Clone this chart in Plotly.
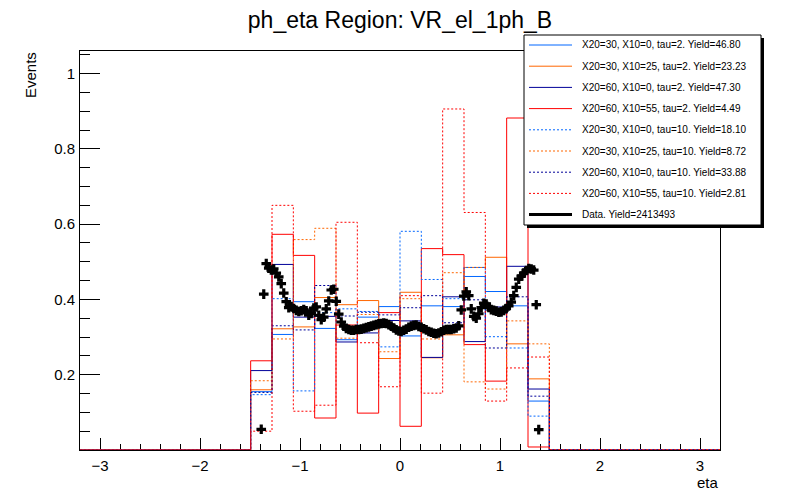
import numpy as np
import plotly.graph_objects as go

# bins do histograma: 30 bins entre -3.2 e 3.2, so os 14 centrais tem conteudo
eta_min, eta_max, n_bins = -3.2, 3.2, 30
n_vazios = 8

# sinais normalizados (tau=2 solido, tau=10 pontilhado)
x20_30_x10_0_tau2 = [0.155, 0.307, 0.394, 0.323, 0.293, 0.353, 0.381, 0.303, 0.383, 0.381, 0.461, 0.421, 0.383, 0.130]
x20_30_x10_25_tau2 = [0.160, 0.322, 0.327, 0.405, 0.386, 0.397, 0.243, 0.419, 0.245, 0.306, 0.485, 0.512, 0.282, 0.189]
x20_60_x10_0_tau2 = [0.211, 0.493, 0.353, 0.355, 0.287, 0.311, 0.344, 0.343, 0.246, 0.407, 0.288, 0.380, 0.488, 0.162]
x20_60_x10_55_tau2 = [0.237, 0.573, 0.517, 0.085, 0.332, 0.098, 0.365, 0.063, 0.535, 0.519, 0.280, 0.183, 0.882, 0.008]
x20_30_x10_0_tau10 = [0.147, 0.402, 0.157, 0.365, 0.375, 0.368, 0.274, 0.581, 0.453, 0.402, 0.485, 0.301, 0.271, 0.090]
x20_30_x10_25_tau10 = [0.184, 0.295, 0.559, 0.589, 0.297, 0.360, 0.261, 0.402, 0.295, 0.471, 0.181, 0.162, 0.343, 0.282]
x20_60_x10_0_tau10 = [0.153, 0.330, 0.319, 0.437, 0.356, 0.366, 0.359, 0.378, 0.410, 0.338, 0.399, 0.271, 0.407, 0.143]
x20_60_x10_55_tau10 = [0.050, 0.650, 0.103, 0.119, 0.605, 0.285, 0.168, 0.410, 0.151, 0.906, 0.631, 0.130, 0.218, 0.247]

# dados: bins de 0.025 entre -1.4 e 1.4
data_bin_lo, data_bin_w = -1.4, 0.025
data_vals = [
    0.055, 0.414, 0.495, 0.483, 0.478, 0.481, 0.470, 0.460, 0.442, 0.417,
    0.394, 0.378, 0.381, 0.376, 0.371, 0.368, 0.370, 0.373, 0.370, 0.358,
    0.363, 0.377, 0.380, 0.358, 0.346, 0.353, 0.375, 0.396, 0.425, 0.427,
    0.395, 0.361, 0.340, 0.329, 0.323, 0.320, 0.318, 0.318, 0.320, 0.320,
    0.321, 0.323, 0.325, 0.327, 0.329, 0.331, 0.333, 0.335, 0.336, 0.337,
    0.336, 0.333, 0.329, 0.324, 0.319, 0.316, 0.315, 0.318, 0.321, 0.326,
    0.329, 0.331, 0.332, 0.328, 0.326, 0.322, 0.319, 0.315, 0.313, 0.310,
    0.309, 0.311, 0.314, 0.318, 0.320, 0.320, 0.320, 0.322, 0.324, 0.330,
    0.372, 0.409, 0.420, 0.410, 0.375, 0.355, 0.350, 0.362, 0.378, 0.390,
    0.388, 0.379, 0.373, 0.371, 0.369, 0.366, 0.367, 0.371, 0.376, 0.383,
    0.393, 0.410, 0.432, 0.454, 0.462, 0.470, 0.477, 0.482, 0.481, 0.478,
    0.386, 0.054,
]

legend_labels = [
    "X20=30, X10=0, tau=2. Yield=46.80",
    "X20=30, X10=25, tau=2. Yield=23.23",
    "X20=60, X10=0, tau=2. Yield=47.30",
    "X20=60, X10=55, tau=2. Yield=4.49",
    "X20=30, X10=0, tau=10. Yield=18.10",
    "X20=30, X10=25, tau=10. Yield=8.72",
    "X20=60, X10=0, tau=10. Yield=33.88",
    "X20=60, X10=55, tau=10. Yield=2.81",
    "Data. Yield=2413493",
]

azul, laranja, marinho, vermelho = "#0066ff", "#ff6600", "#000099", "#ff0000"
pontilhado = "2px,2px"
estilos = [
    (x20_30_x10_0_tau2, azul, "solid"),
    (x20_30_x10_25_tau2, laranja, "solid"),
    (x20_60_x10_0_tau2, marinho, "solid"),
    (x20_60_x10_55_tau2, vermelho, "solid"),
    (x20_30_x10_0_tau10, azul, pontilhado),
    (x20_30_x10_25_tau10, laranja, pontilhado),
    (x20_60_x10_0_tau10, marinho, pontilhado),
    (x20_60_x10_55_tau10, vermelho, pontilhado),
]

FONTE = "Liberation Sans, Arial, Helvetica, sans-serif"
W, H = 800, 500
OFF = 8  # a pagina html tem 8px de margem no body
L, R, T, B = 80 - OFF, 80 + OFF, 51 - OFF, 50 + OFF

edges = np.linspace(eta_min, eta_max, n_bins + 1)


def degraus(vals):
    cheio = [0.0] * n_vazios + list(vals) + [0.0] * n_vazios
    return list(edges), cheio + [cheio[-1]]


# posicoes em pixels da tela -> coordenadas "paper"
def px_x(px):
    return (px - OFF - L) / (W - L - R)


def px_y(py):
    return (H - B - (py - OFF)) / (H - T - B)


fig = go.Figure()

for vals, cor, dash in estilos:
    xs, ys = degraus(vals)
    fig.add_trace(go.Scatter(x=xs, y=ys, mode="lines", showlegend=False,
                             line=dict(color=cor, width=1, dash=dash, shape="hv")))

centros = [data_bin_lo + data_bin_w * (i + 0.5) for i in range(len(data_vals))]
fig.add_trace(go.Scatter(x=centros, y=data_vals, mode="markers", showlegend=False,
                         marker=dict(symbol="cross", size=8, color="black", line_width=0)))

# legenda desenhada a mao (estilo ROOT com sombra)
shapes = []
annotations = []
shapes.append(dict(type="rect", xref="paper", yref="paper", layer="above",
                   x0=px_x(527), x1=px_x(764), y0=px_y(228), y1=px_y(38),
                   fillcolor="black", line=dict(width=0)))
shapes.append(dict(type="rect", xref="paper", yref="paper", layer="above",
                   x0=px_x(524), x1=px_x(761), y0=px_y(225), y1=px_y(35),
                   fillcolor="white", line=dict(color="black", width=1)))
linhas = [(c, d, 1) for _, c, d in estilos] + [("black", "solid", 3)]
for i, (label, (cor, dash, lw)) in enumerate(zip(legend_labels, linhas)):
    yy = 45 + i * 21.2
    shapes.append(dict(type="line", xref="paper", yref="paper", layer="above",
                       x0=px_x(529), x1=px_x(572), y0=px_y(yy), y1=px_y(yy),
                       line=dict(color=cor, width=lw, dash=dash)))
    annotations.append(dict(text=label, xref="paper", yref="paper", x=px_x(580), y=px_y(yy),
                            xanchor="left", yanchor="middle", showarrow=False,
                            font=dict(family=FONTE, size=10, color="black")))

annotations.append(dict(text="Events", xref="paper", yref="paper", x=px_x(30), y=px_y(50),
                        xanchor="center", yanchor="top", textangle=-90, showarrow=False,
                        font=dict(family=FONTE, size=15, color="black")))
annotations.append(dict(text="eta", xref="paper", yref="paper", x=px_x(721), y=px_y(482),
                        xanchor="right", yanchor="middle", showarrow=False,
                        font=dict(family=FONTE, size=15, color="black")))

fig.update_layout(
    width=W, height=H,
    margin=dict(l=L, r=R, t=T, b=B),
    paper_bgcolor="white", plot_bgcolor="white",
    title=dict(text="ph_eta Region: VR_el_1ph_B", x=px_x(400), xanchor="center", xref="paper",
               y=1 - (20 - OFF) / H, yanchor="middle",
               font=dict(family=FONTE, size=23, color="black")),
    font=dict(family=FONTE, size=15, color="black"),
    shapes=shapes, annotations=annotations,
)

fig.update_xaxes(range=[eta_min, eta_max], showgrid=False, zeroline=False,
                 showline=True, linecolor="black", linewidth=1, mirror=True,
                 ticks="inside", ticklen=12, tickwidth=1, tickcolor="black",
                 tickmode="linear", tick0=0, dtick=1, ticklabelstandoff=2,
                 minor=dict(ticks="inside", ticklen=6, tickwidth=1, tickcolor="black",
                            tickmode="linear", tick0=0, dtick=0.2),
                 layer="below traces")
fig.update_yaxes(range=[0, 1.06], showgrid=False, zeroline=False,
                 showline=True, linecolor="black", linewidth=1, mirror=True,
                 ticks="inside", ticklen=20, tickwidth=1, tickcolor="black",
                 tickvals=[0, 0.2, 0.4, 0.6, 0.8, 1.0],
                 ticktext=["", "0.2", "0.4", "0.6", "0.8", "1"], ticklabelstandoff=1,
                 minor=dict(ticks="inside", ticklen=10, tickwidth=1, tickcolor="black",
                            tickmode="linear", tick0=0, dtick=0.05),
                 layer="below traces")

fig.write_html("out.html")
